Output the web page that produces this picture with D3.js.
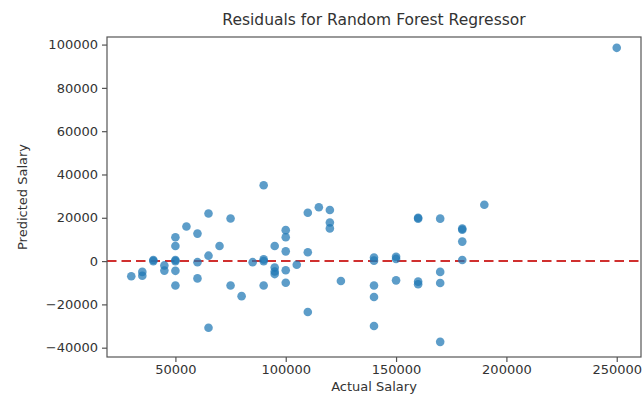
<!DOCTYPE html>
<html>
<head>
<meta charset="utf-8">
<script src="https://cdn.jsdelivr.net/npm/d3@7"></script>
<style>
  body { margin: 0; background: #fff; }
  text { font-family: "DejaVu Sans", sans-serif; fill: #333; }
</style>
</head>
<body>
<div id="chart"></div>
<script>
// residuals (actual salary, residual)
const actual = [
  30000, 35000, 35000, 40000, 40000, 45000, 45000, 50000, 50000, 50000,
  50000, 50000, 50000, 55000, 60000, 60000, 60000, 65000, 65000, 65000,
  70000, 75000, 75000, 80000, 85000, 90000, 90000, 90000, 90000, 95000,
  95000, 95000, 95000, 100000, 100000, 100000, 100000, 100000, 105000, 110000,
  110000, 110000, 115000, 120000, 120000, 120000, 125000, 140000, 140000, 140000,
  140000, 140000, 150000, 150000, 150000, 160000, 160000, 160000, 160000, 170000,
  170000, 170000, 170000, 180000, 180000, 180000, 180000, 190000, 250000
];
const residual = [
  -7000, -5000, -6800, 500, 0, -2000, -4400, 11000, 7000, 500,
  0, -4500, -11300, 16000, 12700, -500, -8000, 22000, 2500, -30800,
  7000, 19700, -11300, -16200, -500, 35000, 800, 0, -11300, 7000,
  -3000, -4800, -6000, 14300, 11000, 4500, -4200, -10000, -1700, 22300,
  4100, -23500, 24900, 23600, 17800, 15100, -9200, 1600, 200, -11300,
  -16600, -30000, 2000, 1000, -8900, 20000, 19600, -9500, -10700, 19600,
  -5000, -10100, -37300, 15000, 14500, 9000, 500, 26000, 98500
];
const xTicks = [50000, 100000, 150000, 200000, 250000];
const yTicks = [-40000, -20000, 0, 20000, 40000, 60000, 80000, 100000];

const width = 644, height = 396;
const margin = { top: 37, right: 3, bottom: 39, left: 107 };

const svg = d3.select("#chart").append("svg")
  .attr("width", width)
  .attr("height", height);

const x = d3.scaleLinear().domain([19000, 261000]).range([margin.left, width - margin.right]);
const y = d3.scaleLinear().domain([-44300, 103500]).range([height - margin.bottom, margin.top]);

const fmt = d3.format("d");

// axes
const xAxis = svg.append("g")
  .attr("transform", "translate(0," + (height - margin.bottom) + ")")
  .call(d3.axisBottom(x).tickValues(xTicks).tickFormat(fmt).tickSize(5).tickPadding(3));
const yAxis = svg.append("g")
  .attr("transform", "translate(" + margin.left + ",0)")
  .call(d3.axisLeft(y).tickValues(yTicks).tickFormat(fmt).tickSize(5).tickPadding(4));

[xAxis, yAxis].forEach(g => {
  g.select(".domain").remove();
  g.selectAll("line").attr("stroke", "#555").attr("stroke-width", 1.2);
  g.selectAll("text").attr("font-size", 13).attr("font-family", "DejaVu Sans").attr("fill", "#333");
});

// zero line
svg.append("line")
  .attr("x1", x.range()[0]).attr("x2", x.range()[1])
  .attr("y1", y(0)).attr("y2", y(0))
  .attr("stroke", "#d0302f")
  .attr("stroke-width", 2)
  .attr("stroke-dasharray", "9.5,5");

// points
svg.append("g")
  .selectAll("circle")
  .data(actual.map((a, i) => [a, residual[i]]))
  .join("circle")
  .attr("cx", d => x(d[0]))
  .attr("cy", d => y(d[1]))
  .attr("r", 4.3)
  .attr("fill", "#1f77b4")
  .attr("fill-opacity", 0.72);

// frame
svg.append("rect")
  .attr("x", margin.left).attr("y", margin.top)
  .attr("width", width - margin.left - margin.right)
  .attr("height", height - margin.top - margin.bottom)
  .attr("fill", "none")
  .attr("stroke", "#555")
  .attr("stroke-width", 1.2);

// labels
svg.append("text")
  .attr("x", (margin.left + width - margin.right) / 2)
  .attr("y", 25)
  .attr("text-anchor", "middle")
  .attr("font-size", 15.5)
  .text("Residuals for Random Forest Regressor");

svg.append("text")
  .attr("x", (margin.left + width - margin.right) / 2)
  .attr("y", 391)
  .attr("text-anchor", "middle")
  .attr("font-size", 13)
  .text("Actual Salary");

svg.append("text")
  .attr("transform", "translate(27," + ((margin.top + height - margin.bottom) / 2) + ") rotate(-90)")
  .attr("text-anchor", "middle")
  .attr("font-size", 13)
  .text("Predicted Salary");
</script>
</body>
</html>
